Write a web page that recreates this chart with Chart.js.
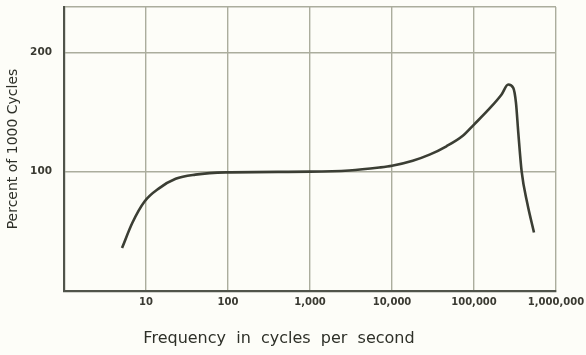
<!DOCTYPE html>
<html>
<head>
<meta charset="utf-8">
<script src="https://cdn.jsdelivr.net/npm/chart.js@4/dist/chart.umd.min.js"></script>
<style>
  html, body { margin: 0; padding: 0; background: #fdfdf8; }
  #wrap { width: 586px; height: 355px; position: relative; }
</style>
</head>
<body>
<div id="wrap"><canvas id="chart" width="586" height="355"></canvas></div>
<script>
// ========== DATA ==========
const freqs = [5.1, 6.8, 9.6, 14.4, 23, 40, 94, 1000, 3000, 7000, 10000, 17900, 28700, 46100, 73700, 100000, 148000, 217000, 261000, 301000, 325000, 347000, 381000, 446000, 539000];
const percents = [36, 57, 75, 86, 94, 97.5, 99.4, 100, 101, 103.5, 105, 109.2, 114.3, 121.3, 130.3, 139.5, 151.5, 164.7, 173, 170.3, 157.7, 132.5, 100.3, 73.7, 49];
const xTickValues = [1, 10, 100, 1000, 10000, 100000, 1000000];
const yTickValues = [0, 100, 200, 238];
const xTitle = 'Frequency  in  cycles  per  second';
const yTitle = 'Percent of 1000 Cycles';

const gridColor = '#abad9d';
const frameColor = '#50544a';
const inkColor = '#3b3e34';

const points = freqs.map((f, i) => ({ x: f, y: percents[i] }));

// x title sits left of the plot centre in the original, so draw it by hand
const xTitlePlugin = {
  id: 'xTitle',
  afterDraw(chart) {
    const ctx = chart.ctx;
    ctx.save();
    ctx.fillStyle = '#2e3028';
    ctx.font = '16px "DejaVu Sans"';
    ctx.textAlign = 'center';
    ctx.textBaseline = 'middle';
    ctx.fillText(xTitle, 279, 339);
    ctx.restore();
  }
};

new Chart(document.getElementById('chart'), {
  type: 'line',
  data: {
    datasets: [{
      data: points,
      borderColor: inkColor,
      borderWidth: 2.6,
      pointRadius: 0,
      fill: false,
      cubicInterpolationMode: 'monotone'
    }]
  },
  options: {
    responsive: false,
    animation: false,
    layout: { padding: { left: 0, right: 30, top: 7, bottom: 0 } },
    plugins: { legend: { display: false }, tooltip: { enabled: false } },
    scales: {
      x: {
        type: 'logarithmic',
        min: 1,
        max: 1000000,
        afterBuildTicks: scale => { scale.ticks = xTickValues.map(v => ({ value: v })); },
        afterFit: scale => {
          scale.height = 64;
          scale.paddingLeft = 0;
          scale.paddingRight = 0;
        },
        grid: { color: gridColor, lineWidth: 1.4, drawTicks: false },
        border: { color: frameColor, width: 2.2 },
        ticks: {
          color: '#3a3a32',
          padding: 5,
          maxRotation: 0,
          autoSkip: false,
          font: { family: 'DejaVu Sans', size: 10, weight: 'bold' },
          callback: v => v === 1 ? '' : Number(v).toLocaleString('en-US')
        },
        title: { display: false }
      },
      y: {
        min: 0,
        max: 238,
        afterBuildTicks: scale => { scale.ticks = yTickValues.map(v => ({ value: v })); },
        afterFit: scale => {
          scale.width = 64;
          scale.paddingTop = 0;
          scale.paddingBottom = 0;
        },
        grid: { color: gridColor, lineWidth: 1.4, drawTicks: false },
        border: { color: frameColor, width: 2.2 },
        ticks: {
          color: '#3a3a32',
          padding: 12,
          font: { family: 'DejaVu Sans', size: 10.5, weight: 'bold' },
          callback: v => (v === 100 || v === 200) ? String(v) : ''
        },
        title: {
          display: true,
          text: yTitle,
          color: '#2e3028',
          font: { family: 'DejaVu Sans', size: 14 },
          padding: { top: 5, bottom: 0 }
        }
      }
    }
  },
  plugins: [xTitlePlugin]
});
</script>
</body>
</html>
